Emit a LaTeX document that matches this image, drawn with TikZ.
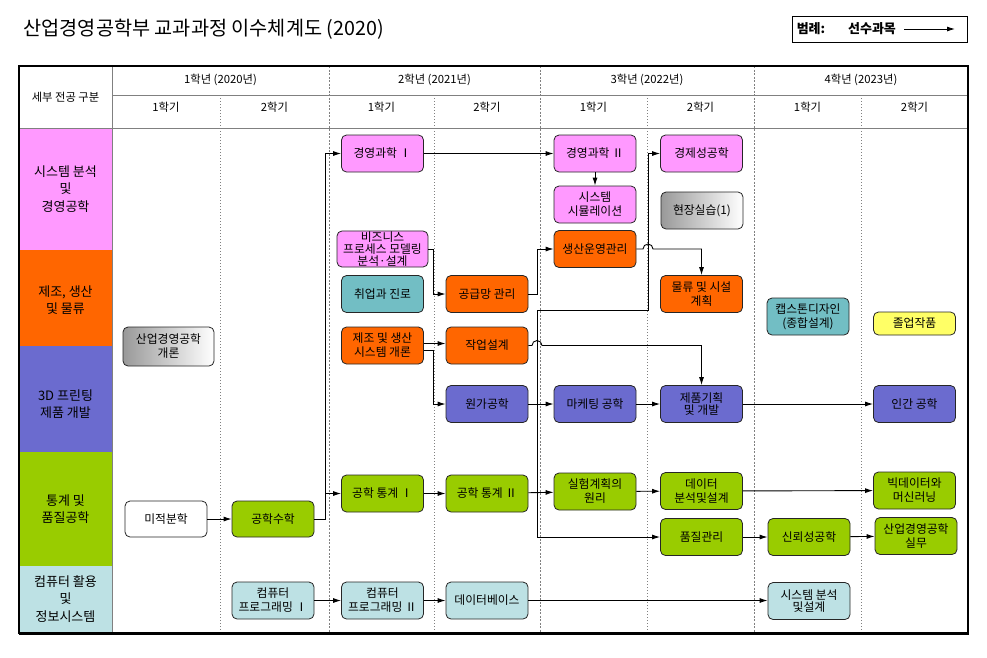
\documentclass[tikz,border=0pt]{standalone}
\usepackage{fontspec}
\setmainfont{Noto Sans CJK KR}
\usetikzlibrary{arrows.meta}

\definecolor{pinkc}{HTML}{FF99FF}
\definecolor{orangec}{HTML}{FF6600}
\definecolor{purplec}{HTML}{6B6BCF}
\definecolor{greenc}{HTML}{99CC00}
\definecolor{lbluec}{HTML}{BDE1E4}
\definecolor{tealc}{HTML}{72BEC4}
\definecolor{yellowc}{HTML}{FFFF66}
\definecolor{gridc}{HTML}{808080}

\tikzset{
  course/.style={draw=black!85, line width=0.8pt, rounded corners=5pt,
    minimum width=82pt, minimum height=37pt, inner sep=1pt, align=center,
    font=\fontsize{11.8}{14}\selectfont},
  tight/.style={font=\fontsize{11.8}{10.5}\selectfont},
  greybox/.style={left color=black!40, right color=white},
  link/.style={draw, line width=0.9pt, -{Latex[length=8pt,width=5pt]}},
  gridline/.style={draw=gridc, line width=1pt},
  yearline/.style={draw=gridc, line width=0.7pt, dash pattern=on 2pt off 1.5pt},
  semline/.style={draw=gridc, line width=0.7pt, dash pattern=on 1pt off 2pt},
  headtext/.style={font=\fontsize{11.3}{13}\selectfont},
  cattext/.style={align=center, font=\fontsize{13}{17.5}\selectfont}
}

\begin{document}
\begin{tikzpicture}[x=1pt, y=-1pt]
  \useasboundingbox (0,0) rectangle (987,657);

  % title and legend
  \node[anchor=west, font=\fontsize{19.7}{22}\selectfont] (title) at (20,29) {산업경영공학부 교과과정 이수체계도 (2020)};
  \node[draw, line width=0.8pt, minimum width=175pt, minimum height=26pt] (legend) at (879.5,29) {};
  \node[font=\bfseries\fontsize{13}{15}\selectfont] (legkey) at (811,29) {범례:};
  \node[font=\bfseries\fontsize{13}{15}\selectfont] (legtext) at (872,29) {선수과목};
  \coordinate (legA) at (904,29);
  \coordinate (legB) at (955,29);
  \draw[link] (legA) -- (legB);

  % category bands
  \fill[pinkc] (19,128) rectangle (112,250);
  \fill[orangec] (19,250) rectangle (112,346);
  \fill[purplec] (19,346) rectangle (112,452);
  \fill[greenc] (19,452) rectangle (112,566);
  \fill[lbluec] (19,566) rectangle (112,633);

  % grid lines
  \draw[gridline] (112,66) -- (112,633);
  \draw[gridline] (112,95) -- (968,95);
  \draw[gridline] (19,128) -- (968,128);
  \draw[yearline] (329,66) -- (329,633);
  \draw[yearline] (540,66) -- (540,633);
  \draw[yearline] (754,66) -- (754,633);
  \draw[semline] (220,95) -- (220,633);
  \draw[semline] (434,95) -- (434,633);
  \draw[semline] (647,95) -- (647,633);
  \draw[semline] (861,95) -- (861,633);

  % outer frame
  \draw[line width=1.3pt] (19,66) rectangle (968,633);
  \draw[line width=2.6pt] (968,66) -- (968,633.5) -- (19,633.5);

  % header
  \node[headtext] (hdcat) at (65.5,97) {세부 전공 구분};
  \node[headtext] (yr1) at (220.5,80) {1학년 (2020년)};
  \node[headtext] (yr2) at (434.5,80) {2학년 (2021년)};
  \node[headtext] (yr3) at (647,80) {3학년 (2022년)};
  \node[headtext] (yr4) at (861,80) {4학년 (2023년)};
  \node[headtext] (s11) at (166,107) {1학기};
  \node[headtext] (s12) at (274.5,107) {2학기};
  \node[headtext] (s21) at (381.5,107) {1학기};
  \node[headtext] (s22) at (487,107) {2학기};
  \node[headtext] (s31) at (593.5,107) {1학기};
  \node[headtext] (s32) at (700.5,107) {2학기};
  \node[headtext] (s41) at (807.5,107) {1학기};
  \node[headtext] (s42) at (914.5,107) {2학기};

  % category labels
  \node[cattext] (catsys) at (65.5,189) {시스템 분석\\및\\경영공학};
  \node[cattext] (catmfg) at (65.5,300) {제조, 생산\\및 물류};
  \node[cattext] (catprt) at (65.5,404) {3D 프린팅\\제품 개발};
  \node[cattext] (catstat) at (65.5,509) {통계 및\\품질공학};
  \node[cattext] (catcom) at (65.5,599) {컴퓨터 활용\\및\\정보시스템};

  % year 1
  \node[course, greybox, minimum width=91pt, minimum height=39pt] (intro) at (168.5,346.5) {산업경영공학\\개론};
  \node[course, fill=white, minimum height=36pt] (calc) at (166,519) {미적분학};
  \node[course, fill=greenc, minimum height=36pt] (engmath) at (273,519) {공학수학};
  \node[course, fill=lbluec] (prog1) at (273,600.5) {컴퓨터\\프로그래밍 Ⅰ};

  % year 2, first semester
  \node[course, fill=pinkc] (ms1) at (382.5,153.5) {경영과학 Ⅰ};
  \node[course, tight, fill=pinkc, minimum width=91pt, minimum height=36pt] (biz) at (382.5,249) {비즈니스\\프로세스 모델링\\분석·설계};
  \node[course, fill=tealc] (career) at (382.5,294) {취업과 진로};
  \node[course, fill=orangec] (mfg) at (382.5,345.5) {제조 및 생산\\시스템 개론};
  \node[course, fill=greenc] (stat1) at (382.5,493.5) {공학 통계 Ⅰ};
  \node[course, fill=lbluec] (prog2) at (382.5,600.5) {컴퓨터\\프로그래밍 Ⅱ};

  % year 2, second semester
  \node[course, fill=orangec] (scm) at (487,294) {공급망 관리};
  \node[course, fill=orangec] (jobd) at (487,345.5) {작업설계};
  \node[course, fill=purplec] (cost) at (487,404) {원가공학};
  \node[course, fill=greenc] (stat2) at (487,493.5) {공학 통계 Ⅱ};
  \node[course, fill=lbluec] (db) at (487,600.5) {데이터베이스};

  % year 3, first semester
  \node[course, fill=pinkc] (ms2) at (595,153.5) {경영과학 Ⅱ};
  \node[course, fill=pinkc] (sim) at (595,204.5) {시스템\\시뮬레이션};
  \node[course, fill=orangec] (prodop) at (595,249) {생산운영관리};
  \node[course, fill=purplec] (mkt) at (595,404) {마케팅 공학};
  \node[course, fill=greenc] (doe) at (595,491.5) {실험계획의\\원리};

  % year 3, second semester
  \node[course, fill=pinkc] (econ) at (701.5,153.5) {경제성공학};
  \node[course, greybox] (intern) at (702,210.5) {현장실습(1)};
  \node[course, fill=orangec] (logis) at (701.5,294) {물류 및 시설\\계획};
  \node[course, tight, fill=purplec] (plan) at (701.5,404) {제품기획\\및 개발};
  \node[course, fill=greenc] (data) at (701.5,491) {데이터\\분석및설계};
  \node[course, fill=greenc] (qc) at (701.5,537) {품질관리};

  % year 4, first semester
  \node[course, fill=tealc] (cap) at (808,316.5) {캡스톤디자인\\(종합설계)};
  \node[course, fill=greenc] (rel) at (809,537) {신뢰성공학};
  \node[course, tight, fill=lbluec] (sad) at (809,601) {시스템 분석\\및설계};

  % year 4, second semester
  \node[course, fill=yellowc, minimum height=23pt] (grad) at (914.5,323.5) {졸업작품};
  \node[course, fill=purplec] (human) at (914.5,404) {인간 공학};
  \node[course, fill=greenc] (bigdata) at (914.5,490.5) {빅데이터와\\머신러닝};
  \node[course, fill=greenc] (prac) at (916,536) {산업경영공학\\실무};

  % prerequisite links
  \coordinate (mathsplit) at (325,519);
  \draw[link] (calc) -- (engmath);
  \draw[link] (engmath.east) -- (mathsplit) |- (ms1.west);
  \draw[link] (mathsplit) |- (stat1.west);
  \draw[link] (prog1) -- (prog2);
  \draw[link] (prog2) -- (db);
  \draw[link] (db) -- (sad.west |- db.east);
  \draw[link] (ms1) -- (ms2);
  \draw[link] (ms2) -- (sim);
  \draw[link] (biz.east) -- ++(5,0) |- (scm.west);
  \draw[link] (scm.east) -- ++(9,0) |- (prodop.west);
  \draw[link] ([yshift=2pt]mfg.east) -- ([yshift=2pt]jobd.west);
  \draw[link] ([yshift=-5pt]mfg.east) -- ++(10,0) |- (cost.west);
  \draw[link] (cost) -- (mkt);
  \draw[link] (mkt) -- (plan);
  \draw[link] (plan) -- (human);
  \draw[link] (stat1) -- (stat2);
  \draw[link] (stat2) -- (doe);
  \draw[link] (doe) -- (data);
  \draw[link] (data) -- (bigdata);
  \draw[link] (qc) -- (rel);
  \draw[link] (rel) -- (prac);

  % trunk from cost engineering, with jumps over it
  \coordinate (trunkS) at (537,310);
  \coordinate (trunkE) at (648,310);
  \draw[link] (cost.east) -- (trunkS |- cost.east) -- (trunkS) -- (trunkE) |- (econ.west);
  \draw[link] (trunkS |- cost.east) |- (qc.west);
  \draw[link] (prodop.east) -- (643,249) arc[start angle=180, end angle=0, radius=5pt] -| (logis.north);
  \draw[link] (jobd.east) -- (532,345.5) arc[start angle=180, end angle=0, radius=5pt] -| (plan.north);
\end{tikzpicture}
\end{document}
